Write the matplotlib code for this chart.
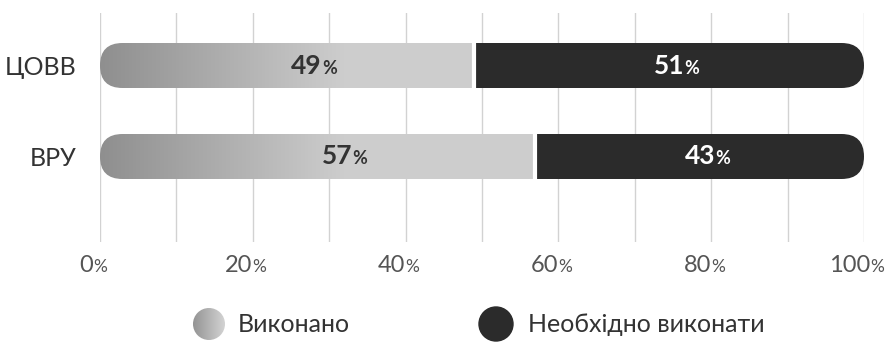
import numpy as np
import matplotlib
matplotlib.use("Agg")
import matplotlib.pyplot as plt
from matplotlib.patches import FancyBboxPatch, Circle
from matplotlib.offsetbox import TextArea, HPacker, AnnotationBbox

plt.rcParams['font.family'] = ['Lato', 'Open Sans', 'DejaVu Sans']

# дані
categories = ['ЦОВВ', 'ВРУ']
done = [49, 57]
todo = [51, 43]
x_ticks = [0, 20, 40, 60, 80, 100]
legend_labels = ['Виконано', 'Необхідно виконати']

LIGHT_L = 0.56    # сірий на лівому краю градієнта
LIGHT_R = 0.805   # світло-сірий
DARK = '#2b2b2b'
TEXT = '#333333'

W, H = 890, 342
fig = plt.figure(figsize=(W / 100, H / 100), dpi=100)
# область графіка в пікселях: x 100..864, y 13..242 (від верху)
ax = fig.add_axes([100 / W, (H - 242) / H, 764 / W, 229 / H])

bar_h = 45 / 91
aspect = (1 / 91) / (100 / 764)


def pct_label(ax, x, text, small, size, small_size, color, weight, xy_coords, offset):
    parts = [TextArea(text, textprops=dict(fontsize=size, color=color, fontweight=weight)),
             TextArea(small, textprops=dict(fontsize=small_size, color=color, fontweight=weight))]
    box = HPacker(children=parts, align='baseline', pad=0, sep=0)
    ab = AnnotationBbox(box, x, xycoords=xy_coords, xybox=offset, boxcoords='offset pixels',
                        frameon=False, box_alignment=(0.5, 0.5), annotation_clip=False)
    ax.add_artist(ab)


for i, cat in enumerate(categories):
    pill = FancyBboxPatch((0, i - bar_h / 2), 100, bar_h,
                          boxstyle='round,pad=0,rounding_size=%f' % (bar_h / aspect / 2 * 0.999),
                          mutation_aspect=aspect, facecolor='none', edgecolor='none',
                          transform=ax.transData)
    ax.add_patch(pill)

    # градієнт світлої частини
    xs = np.linspace(0, done[i], 400)
    shade = np.interp(xs, [0, 32], [LIGHT_L, LIGHT_R])
    img = np.dstack([shade, shade, shade]).reshape(1, -1, 3)
    im = ax.imshow(img, extent=(0, done[i], i + bar_h / 2, i - bar_h / 2),
                   aspect='auto', interpolation='bilinear', zorder=2)
    im.set_clip_path(pill)

    bars = ax.barh(i, todo[i], left=done[i], height=bar_h, color=DARK, zorder=2)
    bars[0].set_clip_path(pill)
    ax.plot([done[i], done[i]], [i - bar_h / 2, i + bar_h / 2], color='white', lw=3,
            solid_capstyle='butt', zorder=3)

    pct_label(ax, (done[i] / 2 + 3.5, i), str(done[i]), '%', 19, 13, TEXT, 'bold',
              'data', (0, 0))
    pct_label(ax, (done[i] + todo[i] / 2 + 1, i), str(todo[i]), '%', 19, 13, 'white', 'bold',
              'data', (0, 0))

ax.set_xlim(0, 100)
ax.set_ylim(1 + (242 - 156.5) / 91, -(65.5 - 13) / 91)
ax.set_xticks(x_ticks)
ax.set_xticks(range(10, 100, 20), minor=True)
ax.set_xticklabels([])
ax.grid(True, which='both', axis='x', color='#d2d2d2', lw=1)
ax.set_axisbelow(True)
ax.set_yticks(range(len(categories)))
ax.set_yticklabels(categories, fontsize=18, color=TEXT)
ax.tick_params(axis='both', which='both', length=0)
ax.tick_params(axis='y', pad=17)
for s in ax.spines.values():
    s.set_visible(False)

for t in x_ticks:
    pct_label(ax, (t, 0), str(t), '%', 17, 12.5, '#555555', 'normal',
              ('data', 'axes fraction'), (-7, -23))

# легенда
lax = fig.add_axes([0, 0, 1, 1])
lax.set_xlim(0, W)
lax.set_ylim(H, 0)
lax.axis('off')

c1 = Circle((209, 324), 16, facecolor='none', edgecolor='none')
lax.add_patch(c1)
g = np.linspace(0.58, 0.83, 200)
gim = lax.imshow(np.dstack([g, g, g]).reshape(1, -1, 3), extent=(193, 225, 340, 308),
                 aspect='auto', interpolation='bilinear')
gim.set_clip_path(c1)
lax.add_patch(Circle((496, 324), 17, color=DARK))
lax.set_xlim(0, W)
lax.set_ylim(H, 0)

lax.text(238, 325, legend_labels[0], fontsize=18, color=TEXT, va='center', ha='left')
lax.text(528, 325, legend_labels[1], fontsize=18, color=TEXT, va='center', ha='left')

fig.savefig('out.png', dpi=100)
